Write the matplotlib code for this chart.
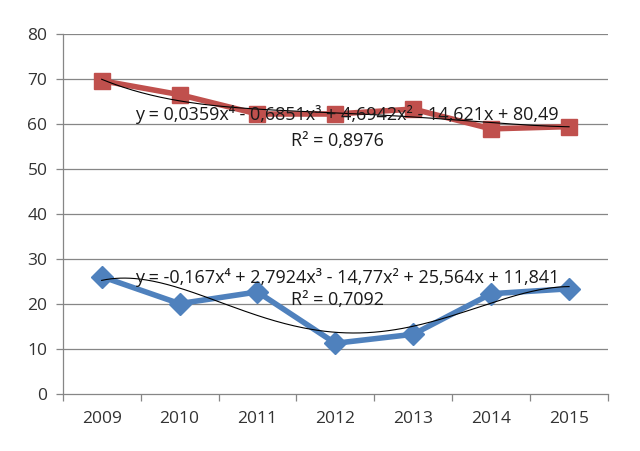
import matplotlib
matplotlib.use('Agg')
import matplotlib.pyplot as plt
import numpy as np

years = ['2009', '2010', '2011', '2012', '2013', '2014', '2015']
red_vals = [69.6, 66.5, 62.2, 62.2, 63.3, 58.9, 59.4]
blue_vals = [26.1, 20.1, 22.7, 11.3, 13.3, 22.3, 23.4]

# trendline coefficients as printed on the chart (x = 1..7), highest power first
red_coef = [0.0359, -0.6851, 4.6942, -14.621, 80.49]
blue_coef = [-0.167, 2.7924, -14.77, 25.564, 11.841]
red_eq = 'y = 0,0359x⁴ - 0,6851x³ + 4,6942x² - 14,621x + 80,49'
red_r2 = 'R² = 0,8976'
blue_eq = 'y = -0,167x⁴ + 2,7924x³ - 14,77x² + 25,564x + 11,841'
blue_r2 = 'R² = 0,7092'

plt.rcParams['font.family'] = ['Open Sans', 'DejaVu Sans']

fig = plt.figure(figsize=(6.4, 4.51), dpi=100)
ax = fig.add_axes([0.098, 0.126, 0.852, 0.799])

x = np.arange(len(years))
grid_c = '#868686'

for v in range(10, 81, 10):
    ax.axhline(v, color=grid_c, lw=0.9, zorder=0)

ax.plot(x, red_vals, color='#C0504D', lw=4, marker='s', ms=12, zorder=3)
ax.plot(x, blue_vals, color='#4F81BD', lw=4, marker='D', ms=11, zorder=3)

xs = np.linspace(1, 7, 200)
ax.plot(xs - 1, np.polyval(red_coef, xs), color='black', lw=0.8, zorder=4)
ax.plot(xs - 1, np.polyval(blue_coef, xs), color='black', lw=0.8, zorder=4)

tc = '#1a1a1a'
fs = 13
ax.text(3.15, 62.1, red_eq, ha='center', va='center', fontsize=fs, color=tc, zorder=5)
ax.text(3.03, 56.3, red_r2, ha='center', va='center', fontsize=fs, color=tc, zorder=5)
ax.text(3.15, 26.0, blue_eq, ha='center', va='center', fontsize=fs, color=tc, zorder=5)
ax.text(3.03, 20.9, blue_r2, ha='center', va='center', fontsize=fs, color=tc, zorder=5)

ax.set_xlim(-0.5, 6.5)
ax.set_ylim(0, 80)
ax.set_yticks(range(0, 81, 10))
ax.set_xticks(x)
ax.set_xticklabels(years)
ax.set_xticks(np.arange(-0.5, 7, 1), minor=True)
lc = '#333333'
ax.tick_params(axis='x', which='major', length=0, pad=12, labelsize=12.5, labelcolor=lc)
ax.tick_params(axis='x', which='minor', length=5, color=grid_c, width=0.9)
ax.tick_params(axis='y', length=5, color=grid_c, width=0.9, pad=6, labelsize=12.5, labelcolor=lc)

for s in ['top', 'right']:
    ax.spines[s].set_visible(False)
for s in ['left', 'bottom']:
    ax.spines[s].set_color(grid_c)
    ax.spines[s].set_linewidth(0.9)

fig.savefig('out.png', dpi=100)
